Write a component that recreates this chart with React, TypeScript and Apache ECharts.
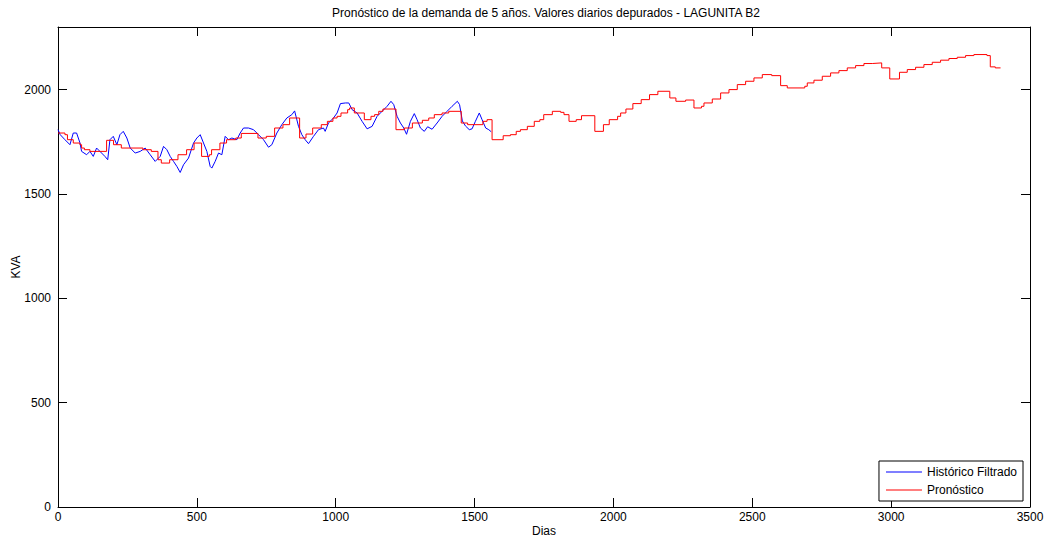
import React, { useEffect, useRef } from "react";
import * as echarts from "echarts";

const titleText = "Pronóstico de la demanda de 5 años. Valores diarios depurados - LAGUNITA B2";
const xName = "Dias";
const yName = "KVA";
const seriesNames = ["Histórico Filtrado", "Pronóstico"];

const xTicks = [0, 500, 1000, 1500, 2000, 2500, 3000, 3500];
const yTicks = [0, 500, 1000, 1500, 2000];
const yMax = 2300;

// Histórico filtrado: [día, KVA]
const historico: [number, number][] = [
  [0, 1808], [8, 1784], [25, 1760], [43, 1736], [55, 1792], [67, 1792], [79, 1745], [85, 1704],
  [103, 1688], [115, 1704], [127, 1680], [139, 1720], [151, 1704], [169, 1680], [179, 1664],
  [187, 1760], [199, 1776], [212, 1736], [223, 1784], [235, 1800], [248, 1768], [260, 1720],
  [278, 1696], [296, 1704], [314, 1720], [332, 1688], [350, 1656], [368, 1680], [380, 1728],
  [392, 1712], [404, 1680], [416, 1656], [428, 1632], [440, 1603], [452, 1640], [470, 1672],
  [488, 1744], [500, 1768], [512, 1784], [524, 1744], [536, 1704], [548, 1632], [554, 1624],
  [566, 1656], [578, 1696], [590, 1688], [602, 1776], [614, 1760], [626, 1768], [644, 1760],
  [656, 1792], [668, 1816], [686, 1816], [704, 1808], [722, 1784], [740, 1760], [758, 1724],
  [770, 1736], [788, 1792], [806, 1832], [824, 1864], [842, 1880], [852, 1898], [866, 1824],
  [878, 1784], [890, 1760], [902, 1741], [920, 1776], [938, 1808], [956, 1816], [962, 1800],
  [974, 1840], [992, 1864], [1005, 1888], [1017, 1933], [1035, 1936], [1047, 1936], [1059, 1904],
  [1077, 1888], [1095, 1848], [1113, 1812], [1131, 1824], [1149, 1872], [1167, 1896], [1185, 1920],
  [1199, 1944], [1209, 1928], [1221, 1872], [1233, 1840], [1245, 1816], [1255, 1786], [1269, 1848],
  [1283, 1885], [1293, 1856], [1305, 1816], [1319, 1800], [1331, 1822], [1347, 1810], [1365, 1840],
  [1383, 1872], [1401, 1896], [1419, 1920], [1438, 1944], [1446, 1928], [1456, 1850], [1467, 1826],
  [1481, 1808], [1491, 1812], [1503, 1848], [1517, 1888], [1527, 1856], [1540, 1816], [1551, 1808],
  [1560, 1798]
];

// Pronóstico (escalones): [día de inicio, KVA]
const pronostico: [number, number][] = [
  [0, 1792], [25, 1784], [34, 1760], [55, 1744], [79, 1736], [85, 1720], [95, 1712], [115, 1704],
  [175, 1757], [200, 1736], [228, 1720], [306, 1712], [336, 1704], [360, 1664], [372, 1648],
  [402, 1664], [432, 1688], [463, 1712], [490, 1744], [517, 1680], [545, 1688], [553, 1712],
  [583, 1744], [607, 1760], [640, 1768], [660, 1790], [720, 1768], [750, 1776], [780, 1816],
  [810, 1832], [834, 1864], [870, 1768], [893, 1787], [917, 1816], [948, 1832], [970, 1848],
  [990, 1864], [1005, 1872], [1019, 1888], [1043, 1904], [1050, 1912], [1067, 1888], [1103, 1856],
  [1127, 1872], [1140, 1880], [1155, 1896], [1170, 1907], [1217, 1808], [1247, 1816], [1276, 1840],
  [1312, 1853], [1335, 1864], [1355, 1880], [1383, 1888], [1407, 1896], [1452, 1840], [1475, 1832],
  [1530, 1848], [1545, 1856], [1563, 1760], [1603, 1779], [1629, 1784], [1650, 1800], [1665, 1808],
  [1690, 1824], [1715, 1848], [1735, 1856], [1749, 1880], [1780, 1896], [1810, 1891], [1822, 1880],
  [1840, 1848], [1866, 1856], [1885, 1875], [1933, 1800], [1964, 1832], [1985, 1856], [2015, 1872],
  [2026, 1888], [2045, 1907], [2070, 1933], [2100, 1952], [2130, 1976], [2160, 1992], [2203, 1960],
  [2225, 1944], [2260, 1950], [2290, 1912], [2317, 1920], [2326, 1936], [2356, 1955], [2386, 1984],
  [2416, 2000], [2446, 2024], [2476, 2040], [2506, 2056], [2536, 2072], [2570, 2067], [2602, 2019],
  [2626, 2008], [2689, 2016], [2698, 2032], [2722, 2045], [2752, 2064], [2782, 2080], [2812, 2091],
  [2842, 2104], [2872, 2115], [2902, 2125], [2932, 2128], [2966, 2104], [2995, 2051], [3030, 2083],
  [3058, 2096], [3088, 2107], [3118, 2120], [3148, 2131], [3178, 2141], [3208, 2149], [3238, 2155],
  [3268, 2163], [3298, 2168], [3345, 2163], [3357, 2109], [3375, 2104], [3394, 2104]
];

const FONT = "'Liberation Sans', Arial, Helvetica, sans-serif";

export default function App() {
  const ref = useRef<HTMLDivElement>(null);
  useEffect(() => {
    if (!ref.current) return;
    const chart = echarts.init(ref.current, undefined, { renderer: "svg" });
    const axisLine = { show: true, onZero: false, lineStyle: { color: "#000", width: 1 } };
    const tick = { show: true, inside: true, length: 9, lineStyle: { color: "#000", width: 1 } };
    const common = {
      type: "value" as const,
      axisLine,
      axisTick: tick,
      splitLine: { show: false },
    };
    chart.setOption({
      animation: false,
      backgroundColor: "#fff",
      textStyle: { fontFamily: FONT },
      graphic: [
        {
          type: "text",
          x: 546,
          y: 13,
          style: {
            text: titleText,
            fontSize: 12,
            fontFamily: FONT,
            fill: "#000",
            align: "center",
            verticalAlign: "middle",
          },
        },
      ],
      grid: {
        left: 58,
        right: 17,
        top: 27,
        bottom: 33,
        containLabel: false,
        outerBoundsMode: "none",
      },
      legend: {
        orient: "vertical",
        right: 24,
        bottom: 39,
        data: seriesNames,
        icon: "rect",
        itemWidth: 36,
        itemHeight: 1,
        itemGap: 6,
        padding: [5, 6, 5, 7],
        borderColor: "#000",
        borderWidth: 1,
        backgroundColor: "#fff",
        borderRadius: 0,
        textStyle: { fontSize: 12, color: "#000", fontFamily: FONT },
      },
      xAxis: [
        {
          ...common,
          position: "bottom",
          min: 0,
          max: 3500,
          interval: 500,
          name: xName,
          nameLocation: "middle",
          nameGap: 18,
          nameMoveOverlap: false,
          nameTextStyle: { fontSize: 12, color: "#000", fontFamily: FONT },
          axisLabel: {
            color: "#000",
            fontSize: 12,
            margin: 4,
            fontFamily: FONT,
            formatter: (v: number) => (xTicks.includes(v) ? String(v) : ""),
          },
        },
        {
          ...common,
          position: "top",
          min: 0,
          max: 3500,
          interval: 500,
          axisLabel: { show: false },
        },
      ],
      yAxis: [
        {
          ...common,
          position: "left",
          min: 0,
          max: yMax,
          interval: 500,
          name: yName,
          nameLocation: "middle",
          nameGap: 36,
          nameMoveOverlap: false,
          nameTextStyle: { fontSize: 12, color: "#000", fontFamily: FONT },
          axisLabel: {
            color: "#000",
            fontSize: 12,
            margin: 7,
            fontFamily: FONT,
            formatter: (v: number) => (yTicks.includes(v) ? String(v) : ""),
          },
        },
        {
          ...common,
          position: "right",
          min: 0,
          max: yMax,
          interval: 500,
          axisLabel: { show: false },
        },
      ],
      series: [
        {
          name: seriesNames[0],
          type: "line",
          xAxisIndex: 0,
          yAxisIndex: 0,
          data: historico,
          symbol: "none",
          showSymbol: false,
          lineStyle: { color: "#0000ff", width: 1 },
          itemStyle: { color: "#0000ff" },
        },
        {
          name: seriesNames[1],
          type: "line",
          xAxisIndex: 0,
          yAxisIndex: 0,
          data: pronostico,
          step: "end",
          symbol: "none",
          showSymbol: false,
          lineStyle: { color: "#ff0000", width: 1 },
          itemStyle: { color: "#ff0000" },
        },
      ],
    });
    return () => chart.dispose();
  }, []);
  return (
    <div
      ref={ref}
      style={{ position: "fixed", left: 0, top: 0, width: 1047, height: 540, background: "#fff" }}
    />
  );
}
